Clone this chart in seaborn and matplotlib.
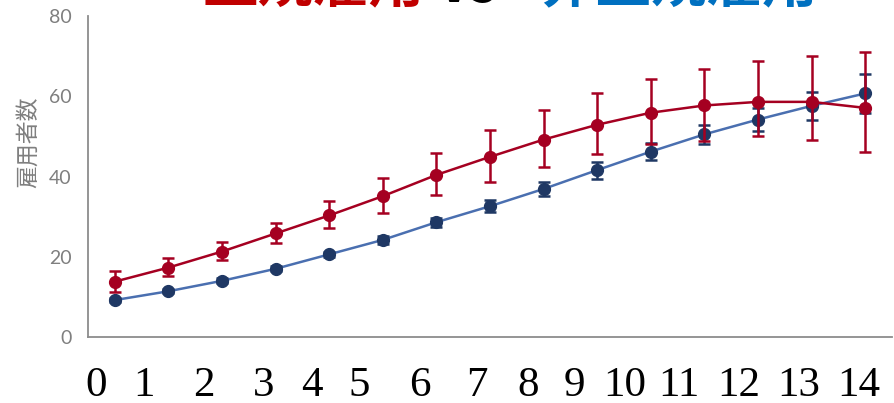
import numpy as np
import pandas as pd
import matplotlib
matplotlib.use("Agg")
import matplotlib.pyplot as plt
import seaborn as sns

# ---- data ----
years = list(range(15))
regular_mean = [13.8, 17.3, 21.3, 25.8, 30.3, 35.1, 40.4, 44.9, 49.2, 52.9, 55.9, 57.7, 58.6, 58.6, 57.1]
regular_err_lo = [2.6, 2.0, 2.2, 2.4, 3.2, 4.1, 5.1, 6.2, 6.9, 7.4, 7.7, 8.9, 8.6, 9.5, 10.9]
regular_err_hi = [2.6, 2.3, 2.4, 2.6, 3.5, 4.5, 5.4, 6.6, 7.3, 7.9, 8.3, 9.2, 10.2, 11.5, 13.9]
nonreg_mean = [9.2, 11.4, 14.0, 17.0, 20.6, 24.2, 28.6, 32.6, 36.9, 41.6, 46.2, 50.5, 54.2, 57.6, 60.7]
nonreg_err = [0.5, 0.5, 0.6, 0.6, 0.7, 0.9, 1.1, 1.5, 1.8, 2.1, 2.1, 2.4, 2.8, 3.5, 4.9]
xtick_labels = [str(i) for i in range(15)]
yticks = [0, 20, 40, 60, 80]
ylabel = "雇用者数"
title_parts = ["正規雇用", "vs", "非正規雇用"]
title_colors = ["#C00000", "#000000", "#0070C0"]

RED = "#A50021"
NAVY = "#1F3864"
BLUE_LINE = "#4A6FB0"

sns.set_theme(style="white")
plt.rcParams['font.family'] = ['Noto Sans CJK JP', 'DejaVu Sans']

fig = plt.figure(figsize=(8.94, 4.03), dpi=100)
ax = fig.add_axes([88/894, (403-337)/403, (892-88)/894, (337-16)/403])

df = pd.DataFrame({
    "year": years * 2,
    "value": regular_mean + nonreg_mean,
    "group": ["正規"] * 15 + ["非正規"] * 15,
})

sns.lineplot(data=df[df.group == "非正規"], x="year", y="value", ax=ax,
             color=BLUE_LINE, lw=1.8, marker=None, legend=False, zorder=2)
ax.errorbar(years, nonreg_mean, yerr=nonreg_err, fmt='o', color=NAVY, ms=8.5,
            ecolor=NAVY, elinewidth=1.8, capsize=4, capthick=1.8, zorder=3)
sns.lineplot(data=df[df.group == "正規"], x="year", y="value", ax=ax,
             color=RED, lw=1.8, marker=None, legend=False, zorder=4)
ax.errorbar(years, regular_mean, yerr=[regular_err_lo, regular_err_hi], fmt='o',
            color=RED, ms=8.5, ecolor=RED, elinewidth=1.8, capsize=4, capthick=1.8,
            zorder=5)

ax.set_xlim(-0.5, 14.5)
ax.set_ylim(0, 80)
ax.set_xlabel("")
ax.set_ylabel("")

# x labels (typed label positions, slightly irregular as in the source)
label_pos = [-0.34, 0.54, 1.66, 2.78, 3.67, 4.55, 5.69, 6.75, 7.72, 8.58, 9.51, 10.52, 11.64, 12.76, 13.88]
ax.set_xticks(label_pos)
ax.set_xticklabels(xtick_labels, fontfamily="Liberation Serif", fontsize=31, color="black")
ax.tick_params(axis="x", length=0, pad=21)

ax.set_yticks(yticks)
ax.set_yticklabels([str(v) for v in yticks], fontfamily="Lato", fontsize=14, color="#7F7F7F")
ax.tick_params(axis="y", length=0, pad=12)

for s in ["top", "right"]:
    ax.spines[s].set_visible(False)
for s in ["left", "bottom"]:
    ax.spines[s].set_color("#8C8C8C")
    ax.spines[s].set_linewidth(1.3)

fig.text(28/894, 1 - 142/403, ylabel, rotation=90, ha="center", va="center",
         fontsize=16.5, color="#7F7F7F")

# title (mostly cut off at the top of the image, as in the source)
title_x = [203, 437, 541]
for txt, col, px in zip(title_parts, title_colors, title_x):
    fig.text(px/894, 1 - 14/403, txt, color=col, fontsize=40, fontweight="bold",
             ha="left", va="bottom")

fig.savefig("out.png", dpi=100)
